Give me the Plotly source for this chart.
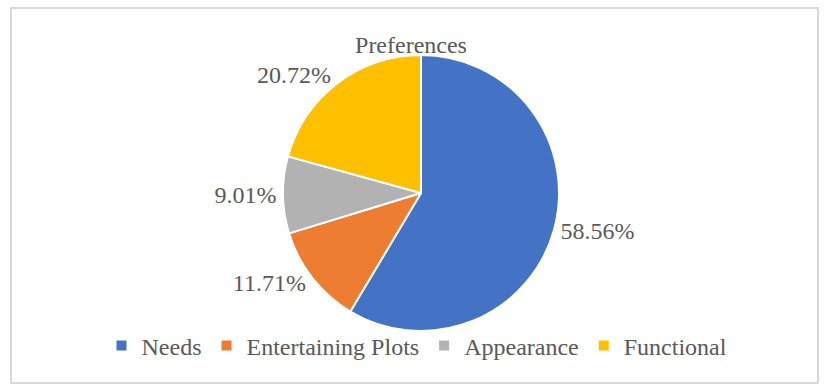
import plotly.graph_objects as go

categories = ["Needs", "Entertaining Plots", "Appearance", "Functional"]
counts = [65, 13, 10, 23]
colors = ["#4472C4", "#ED7D31", "#B2B2B2", "#FFC000"]
title_text = "Preferences"

W, H = 832, 392
FONT = "Liberation Serif, Times New Roman, serif"
GREY = "#595959"

fig = go.Figure(go.Pie(
    labels=categories,
    values=counts,
    sort=False,
    direction="clockwise",
    rotation=0,
    marker=dict(colors=colors, line=dict(color="white", width=2)),
    texttemplate="%{percent:.2%}",
    textposition="outside",
    textfont=dict(family=FONT, size=24, color=GREY),
    domain=dict(x=[283 / W, 559 / W], y=[1 - 331 / H, 1 - 55 / H]),
    hoverinfo="label+percent",
))

fig.update_layout(
    width=W, height=H,
    margin=dict(l=0, r=0, t=0, b=0),
    paper_bgcolor="white",
    plot_bgcolor="white",
    title=dict(text=title_text, x=411 / W, xanchor="center", y=1 - 45 / H, yanchor="middle",
               font=dict(family=FONT, size=24, color=GREY)),
    showlegend=True,
    legend=dict(orientation="h", x=417 / W, xanchor="center", y=1 - 346 / H, yanchor="middle",
                bgcolor="rgba(0,0,0,0)",
                font=dict(family=FONT, size=24, color=GREY), traceorder="normal"),
    shapes=[dict(type="rect", xref="paper", yref="paper",
                 x0=11 / W, x1=818 / W, y0=1 - 383 / H, y1=1 - 8 / H,
                 line=dict(color="#D9D9D9", width=2), fillcolor="rgba(0,0,0,0)", layer="below")],
)

fig.write_html("out.html",
               config={"displayModeBar": False},
               post_script="document.body.style.margin='0';document.body.style.padding='0';"
                           "document.body.style.overflow='hidden';")
